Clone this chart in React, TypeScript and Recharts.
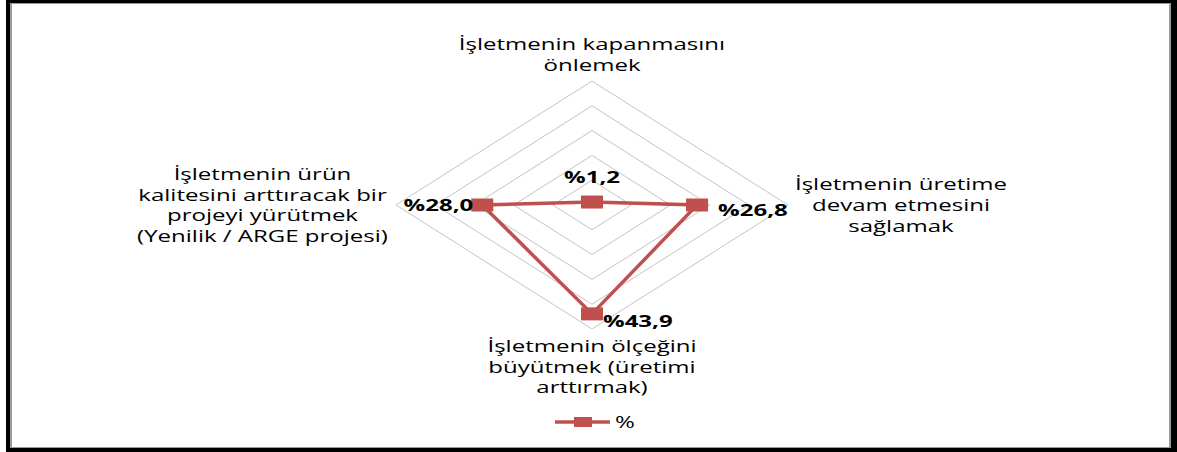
import React from 'react';
import { ComposedChart, Line, XAxis, YAxis, ReferenceDot, LabelList, Legend } from 'recharts';

// ---- data ----
const categoryLines: string[][] = [
  ['İşletmenin kapanmasını', 'önlemek'],
  ['İşletmenin üretime', 'devam etmesini', 'sağlamak'],
  ['İşletmenin ölçeğini', 'büyütmek (üretimi', 'arttırmak)'],
  ['İşletmenin ürün', 'kalitesini arttıracak bir', 'projeyi yürütmek', '(Yenilik / ARGE projesi)'],
];
const values: number[] = [1.2, 26.8, 43.9, 28.0];
const seriesName = '%';
const ringLevels: number[] = [10, 20, 30, 40, 50];
const maxValue = 50;
// radar axis directions: top, right, bottom, left
const axisDirs: [number, number][] = [[0, 1], [1, 0], [0, -1], [-1, 0]];

// ---- style ----
const RED = '#C0504D';
const GRID = '#C4C4C4';
const FONT = "'Open Sans', sans-serif";
const SX = 1.55; // horizontal stretch of text
const FS = 15.5;
const LH = 20.7;

const catPlacement = [
  { dx: 0, dy: -16, mode: 'above' },
  { dx: 113, dy: 0, mode: 'middle' },
  { dx: 0, dy: 16.7, mode: 'below' },
  { dx: -133.5, dy: 0, mode: 'middle' },
];
const valPlacement = [
  { dx: 0, dy: -25, anchor: 'middle' },
  { dx: 21, dy: 5, anchor: 'start' },
  { dx: 11, dy: 7, anchor: 'start' },
  { dx: -9, dy: 0, anchor: 'end' },
];

const toPoint = (v: number, i: number) => ({ x: axisDirs[i][0] * v, y: axisDirs[i][1] * v });
const seriesData = [...values, values[0]].map((v, k) => ({ ...toPoint(v, k % values.length), idx: k, value: values[k % values.length] }));
const ringData = ringLevels.map((r) => [0, 1, 2, 3, 0].map((i) => toPoint(r, i)));
const fmt = (v: number) => '%' + v.toFixed(1).replace('.', ',');

const CategoryLabel = (i: number) => (props: any) => {
  const vb = props.viewBox || {};
  const cx = vb.x + (vb.width || 0) / 2;
  const cy = vb.y + (vb.height || 0) / 2;
  const p = catPlacement[i];
  const lines = categoryLines[i];
  const n = lines.length;
  return (
    <g>
      {lines.map((t, k) => {
        let y = cy + p.dy;
        if (p.mode === 'above') y -= (n - 1 - k) * LH;
        else if (p.mode === 'below') y += k * LH;
        else y += (k - (n - 1) / 2) * LH;
        return (
          <g key={k} transform={`translate(${cx + p.dx},${y}) scale(${SX},1)`}>
            <text x={0} y={0} textAnchor="middle" dominantBaseline="central" fontFamily={FONT} fontSize={FS} fill="#000">
              {t}
            </text>
          </g>
        );
      })}
    </g>
  );
};

const ValueLabel = (props: any) => {
  const { x, y, index } = props;
  if (index >= values.length) return null;
  const p = valPlacement[index];
  return (
    <g transform={`translate(${x + p.dx},${y + p.dy}) scale(${SX},1)`}>
      <text x={0} y={0} textAnchor={p.anchor} dominantBaseline="central" fontFamily={FONT} fontWeight="bold" fontSize={FS} fill="#000">
        {fmt(values[index])}
      </text>
    </g>
  );
};

const SquareDot = (props: any) => {
  const { cx, cy, index } = props;
  if (index >= values.length || cx == null) return <g key={`d${index}`} />;
  return <rect key={`d${index}`} x={cx - 11} y={cy - 6.5} width={22} height={13} fill={RED} />;
};

const LegendContent = (props: any) => {
  const item = (props.payload || []).find((p: any) => p.value === seriesName);
  if (!item) return null;
  return (
    <svg width={90} height={22} style={{ display: 'block' }}>
      <line x1={0} x2={55} y1={11} y2={11} stroke={RED} strokeWidth={3.5} />
      <rect x={19} y={6} width={18} height={10} fill={RED} />
      <g transform={`translate(60,11) scale(${SX},1)`}>
        <text x={0} y={0} dominantBaseline="central" fontFamily={FONT} fontSize={FS} fill="#000">{item.value}</text>
      </g>
    </svg>
  );
};

export default function App() {
  return (
    <div style={{ position: 'absolute', left: 0, top: 0, width: 1177, height: 452, background: '#fff', overflow: 'hidden' }}>
      <div style={{ position: 'absolute', left: 6, top: 0, width: 1171, height: 452, background: '#000' }} />
      <div style={{ position: 'absolute', left: 10, top: 3, width: 1161, height: 445, background: '#9a9a9a' }} />
      <div style={{ position: 'absolute', left: 12, top: 4, width: 1157, height: 443, background: '#fff' }} />
      <div style={{ position: 'absolute', left: 0, top: 0 }}>
        <ComposedChart width={1177} height={452} margin={{ left: 396, right: 389, top: 81, bottom: 123 }}>
          <XAxis type="number" dataKey="x" domain={[-maxValue, maxValue]} allowDataOverflow hide />
          <YAxis type="number" dataKey="y" domain={[-maxValue, maxValue]} allowDataOverflow hide />
          {ringData.map((d, k) => (
            <Line key={`ring${k}`} data={d} dataKey="y" stroke={GRID} strokeWidth={1} dot={false} activeDot={false} legendType="none" isAnimationActive={false} />
          ))}
          {axisDirs.map((dir, i) => (
            <ReferenceDot key={`cat${i}`} x={dir[0] * maxValue} y={dir[1] * maxValue} r={1} fill="none" stroke="none" label={CategoryLabel(i)} />
          ))}
          <Line
            name={seriesName}
            data={seriesData}
            dataKey="y"
            stroke={RED}
            strokeWidth={3.5}
            dot={SquareDot}
            activeDot={false}
            isAnimationActive={false}
          >
            <LabelList dataKey="value" content={ValueLabel} />
          </Line>
          <Legend layout="horizontal" verticalAlign="middle" align="center" content={LegendContent} wrapperStyle={{ position: 'absolute', left: 555, top: 411, width: 90, height: 22 }} />
        </ComposedChart>
      </div>
    </div>
  );
}
